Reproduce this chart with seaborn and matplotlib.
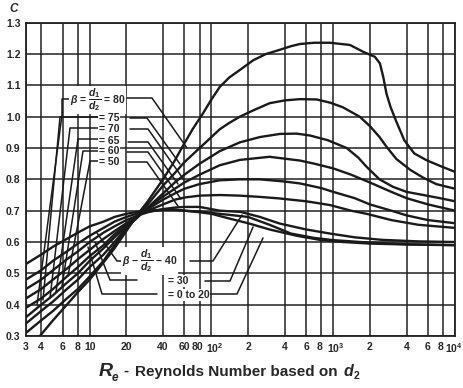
import numpy as np
import pandas as pd
import seaborn as sns
import matplotlib.pyplot as plt
import matplotlib.transforms as mtransforms

# discharge coefficient curves (Re, C)
re_80 = [3.9, 5, 6.5, 8, 10, 13, 16, 20, 25, 30, 40, 50, 57, 70, 85, 100, 117, 140, 171, 220, 280, 354, 450, 533, 700, 939,
         1371, 1765, 2199, 2418, 2575, 2735, 2950, 3260, 3830, 4620, 5840, 7850, 10000]
c_80 = [0.30, 0.35, 0.40, 0.44, 0.48, 0.535, 0.58, 0.635, 0.69, 0.73, 0.80, 0.86, 0.90, 0.96, 1.01, 1.055, 1.095, 1.125, 1.149,
        1.18, 1.20, 1.212, 1.225, 1.232, 1.236, 1.236, 1.229, 1.207, 1.191, 1.17, 1.127, 1.074, 1.032, 0.989, 0.925, 0.883,
        0.861, 0.84, 0.824]

re_75 = [3, 4, 5, 6.5, 8, 10, 13, 16, 20, 25, 30, 40, 50, 60, 80, 100, 117, 140, 171, 220, 300, 400, 533, 731, 939, 1200,
         1650, 2000, 2400, 2740, 3300, 4300, 5500, 7000, 10000]
c_75 = [0.31, 0.35, 0.38, 0.42, 0.45, 0.49, 0.54, 0.59, 0.64, 0.69, 0.72, 0.78, 0.82, 0.855, 0.90, 0.935, 0.96, 0.98, 1.0,
        1.02, 1.043, 1.052, 1.056, 1.055, 1.045, 1.03, 1.0, 0.97, 0.935, 0.904, 0.865, 0.83, 0.805, 0.785, 0.77]

re_70 = [3, 4, 5, 6.5, 8, 10, 13, 16, 20, 25, 30, 40, 50, 60, 80, 117, 171, 250, 365, 500, 644, 900, 1290, 1600, 1880, 2400,
         3100, 4000, 5500, 7500, 10000]
c_70 = [0.34, 0.38, 0.41, 0.45, 0.48, 0.52, 0.56, 0.60, 0.645, 0.68, 0.71, 0.755, 0.79, 0.815, 0.85, 0.89, 0.918, 0.935,
        0.945, 0.946, 0.94, 0.925, 0.90, 0.87, 0.84, 0.80, 0.776, 0.76, 0.75, 0.74, 0.73]

re_65 = [3, 4, 5, 6.5, 8, 10, 13, 16, 20, 25, 30, 40, 50, 60, 80, 117, 171, 300, 533, 700, 1000, 1400, 2000, 3000, 4000,
         6000, 10000]
c_65 = [0.36, 0.40, 0.43, 0.47, 0.50, 0.54, 0.58, 0.615, 0.65, 0.685, 0.71, 0.745, 0.77, 0.79, 0.815, 0.845, 0.862, 0.872,
        0.86, 0.85, 0.835, 0.815, 0.79, 0.76, 0.74, 0.72, 0.70]

re_60 = [3, 4, 5, 6.5, 8, 10, 13, 16, 20, 25, 30, 40, 50, 60, 80, 117, 171, 250, 400, 533, 800, 1000, 1500, 2000, 3000, 4000,
         6000, 10000]
c_60 = [0.39, 0.42, 0.45, 0.49, 0.52, 0.555, 0.59, 0.625, 0.655, 0.685, 0.705, 0.735, 0.755, 0.77, 0.785, 0.797, 0.80, 0.80,
        0.793, 0.787, 0.772, 0.76, 0.74, 0.72, 0.70, 0.685, 0.67, 0.66]

re_50 = [3, 4, 5, 6.5, 8, 10, 13, 16, 20, 25, 30, 40, 50, 60, 80, 117, 171, 250, 363, 600, 939, 1400, 1880, 3000, 5000, 10000]
c_50 = [0.42, 0.45, 0.48, 0.515, 0.545, 0.575, 0.61, 0.635, 0.66, 0.685, 0.70, 0.72, 0.735, 0.742, 0.748, 0.75, 0.748, 0.744,
        0.739, 0.73, 0.718, 0.70, 0.69, 0.67, 0.655, 0.645]

re_40 = [3, 4, 5, 6.5, 8, 10, 13, 16, 20, 25, 30, 40, 50, 60, 80, 117, 174, 250, 363, 600, 939, 1500, 2500, 5000, 10000]
c_40 = [0.45, 0.48, 0.51, 0.545, 0.57, 0.60, 0.63, 0.65, 0.67, 0.685, 0.695, 0.705, 0.71, 0.712, 0.712, 0.70, 0.696, 0.68,
        0.659, 0.64, 0.627, 0.615, 0.607, 0.602, 0.60]

re_30 = [3, 4, 5, 6.5, 8, 10, 13, 16, 20, 25, 30, 40, 50, 60, 80, 117, 200, 300, 450, 700, 1000, 2000, 4000, 10000]
c_30 = [0.48, 0.51, 0.54, 0.57, 0.595, 0.62, 0.645, 0.665, 0.68, 0.692, 0.698, 0.703, 0.703, 0.70, 0.697, 0.69, 0.68, 0.655,
        0.627, 0.613, 0.606, 0.598, 0.593, 0.59]

re_20 = [3, 4, 5, 6.5, 8, 10, 13, 16, 20, 25, 30, 40, 50, 60, 80, 100, 140, 200, 300, 500, 800, 1200, 2000, 4000, 10000]
c_20 = [0.53, 0.56, 0.585, 0.61, 0.63, 0.65, 0.665, 0.68, 0.69, 0.697, 0.70, 0.703, 0.703, 0.70, 0.695, 0.69, 0.675, 0.66,
        0.64, 0.62, 0.606, 0.60, 0.595, 0.592, 0.59]

xticks = [3, 4, 6, 8, 10, 20, 40, 60, 80, 100, 200, 400, 600, 800, 1000, 2000, 4000, 6000, 8000, 10000]
xticklabels = ['3', '4', '6', '8', '10', '20', '40', '60', '80', r'10$^{\mathbf{2}}$', '2', '4', '6', '8',
               r'10$^{\mathbf{3}}$', '2', '4', '6', '8', r'10$^{\mathbf{4}}$']
yticks = [0.3, 0.4, 0.5, 0.6, 0.7, 0.8, 0.9, 1.0, 1.1, 1.2, 1.3]

curves = {'.80': (re_80, c_80), '.75': (re_75, c_75), '.70': (re_70, c_70), '.65': (re_65, c_65),
          '.60': (re_60, c_60), '.50': (re_50, c_50), '.40': (re_40, c_40), '.30': (re_30, c_30),
          '0-20': (re_20, c_20)}
df = pd.concat([pd.DataFrame({'Re': r, 'C': c, 'beta': k}) for k, (r, c) in curves.items()], ignore_index=True)

sns.set_style('white')
plt.rcParams['font.family'] = ['Liberation Sans', 'DejaVu Sans']
plt.rcParams['mathtext.fontset'] = 'custom'
plt.rcParams['mathtext.rm'] = 'Liberation Sans:bold'
plt.rcParams['mathtext.bf'] = 'Liberation Sans:bold'
plt.rcParams['mathtext.it'] = 'Liberation Sans:bold:italic'

fig = plt.figure(figsize=(4.63, 3.88), dpi=100)
ax = fig.add_axes([26 / 463, 1 - 336 / 388, 429 / 463, 313.3 / 388])

sns.lineplot(data=df, x='Re', y='C', hue='beta', palette=['#1a1a1a'] * 9, legend=False,
             sort=False, estimator=None, linewidth=1.7, ax=ax)

ax.set_xscale('log')
ax.set_xlim(3, 10000)
ax.set_ylim(0.3, 1.3)
ax.set_xticks(xticks)
ax.set_xticklabels(xticklabels, fontsize=7.5, fontweight='bold')
ax.minorticks_off()
ax.set_yticks(yticks)
ax.set_yticklabels(['%.1f' % v for v in yticks], fontsize=7.5, fontweight='bold')
ax.tick_params(length=0, pad=4)
ax.grid(True, color='#222222', linewidth=1.1)
for s in ax.spines.values():
    s.set_color('#222222')
    s.set_linewidth(1.3)
ax.set_xlabel('')
ax.set_ylabel('')

# nudge crowded tick labels apart
shifts = {8: -2, 9: 3, 13: -2, 14: 2, 18: -3, 19: -1}
for i, t in enumerate(ax.get_xticklabels()):
    if i in shifts:
        t.set_transform(t.get_transform() + mtransforms.ScaledTranslation(shifts[i] / 100, 0, fig.dpi_scale_trans))


def px(x, y):
    # picture pixel -> axes fraction
    return ((x - 26) / 429, (336 - y) / 313.3)


def leader(points):
    xs, ys = zip(*[px(*p) for p in points])
    ax.plot(xs, ys, color='#1a1a1a', lw=1.1, transform=ax.transAxes, clip_on=False)


def label(x, y, s, size=7.5, ha='left'):
    tx, ty = px(x, y)
    ax.text(tx, ty, s, transform=ax.transAxes, fontsize=size, fontweight='bold', ha=ha, va='center',
            bbox=dict(facecolor='white', edgecolor='none', pad=0.4))


# upper labels and leaders
leader([(70, 99), (62, 99), (62, 115), (37, 305)])
leader([(98, 117), (60, 117), (43, 300)])
leader([(98, 128), (70, 128), (50, 298)])
leader([(98, 139), (78, 139), (56, 292)])
leader([(98, 151), (83, 151), (62, 286)])
leader([(100, 161), (90, 161), (68, 276)])
leader([(127, 98), (152, 98), (187, 148)])
leader([(130, 118), (147, 118), (180, 164)])
leader([(130, 129), (148, 129), (184, 180)])
leader([(128, 142), (148, 142), (178, 184)])
leader([(127, 152), (148, 152), (181, 199)])
leader([(128, 162), (147, 162), (178, 206)])
label(70, 100, r'$\beta$ = $\dfrac{d_1}{d_2}$ = 80', size=7.5)
label(99, 118, '= 75')
label(99, 129, '= 70')
label(99, 141, '= 65')
label(99, 151, '= 60')
label(99, 162, '= 50')

# lower labels and leaders
leader([(122, 261), (117, 261), (97, 233)])
leader([(190, 261), (213, 261), (242, 215)])
leader([(137, 280), (110, 280), (95, 242)])
leader([(205, 281), (230, 281), (253, 227)])
leader([(157, 294), (102, 294), (88, 247)])
leader([(210, 294), (237, 294), (263, 238)])
label(122, 261, r'$\beta$ $-$ $\dfrac{d_1}{d_2}$ $-$ 40', size=7.5)
label(168, 281, '= 30')
label(168, 295, '= 0 to 20')

fig.text(14 / 463, 1 - 9 / 388, 'C', fontsize=8.5, fontweight='bold', style='italic', ha='center', va='center')
fig.text(99 / 463, 1 - 371 / 388, 'R', fontsize=14, fontweight='bold', style='italic', ha='left', va='center')
fig.text(112 / 463, 1 - 378 / 388, 'e', fontsize=8.5, fontweight='bold', style='italic', ha='left', va='center')
fig.text(123 / 463, 1 - 371 / 388, '-', fontsize=11, fontweight='bold', ha='left', va='center')
fig.text(135 / 463, 1 - 372 / 388, 'Reynolds Number based on', fontsize=11, fontweight='bold',
         ha='left', va='center')
fig.text(344 / 463, 1 - 371 / 388, 'd', fontsize=11.5, fontweight='bold', style='italic', ha='left', va='center')
fig.text(353.5 / 463, 1 - 376 / 388, '2', fontsize=7.5, fontweight='bold', ha='left', va='center')

fig.savefig('out.png', dpi=100)
